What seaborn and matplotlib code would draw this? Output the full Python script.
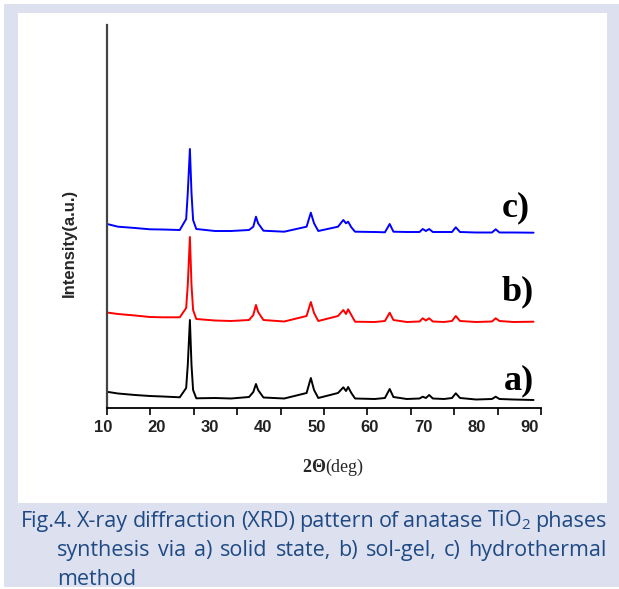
import matplotlib
matplotlib.use("Agg")
import matplotlib.pyplot as plt
import matplotlib.transforms as mtransforms
from matplotlib.patches import Rectangle
import numpy as np
import pandas as pd
import seaborn as sns

# 2theta positions (deg), shared by the three patterns
two_theta = [10.0, 11.8, 15.0, 17.8, 20.2, 23.4, 24.6, 24.9, 25.3, 25.6, 25.9, 26.5,
             30.0, 33.0, 36.4, 37.2, 37.7, 38.1, 39.1, 43.0, 47.2, 48.0, 48.6, 49.4,
             53.1, 54.1, 54.6, 55.0, 55.6, 56.3, 60.0, 61.9, 62.8, 63.5, 66.0, 68.4,
             69.0, 69.6, 70.2, 70.9, 73.0, 74.5, 75.2, 76.0, 79.0, 82.0, 82.7, 83.4,
             86.0, 89.8]

# stacked intensities (a.u.), already offset as in the figure
solid_state = [15, 13.5, 12, 11, 10.5, 9.7, 19, 42, 87, 42, 17, 8.7,
               9, 8.5, 10, 15, 23, 17, 9.5, 8.5, 14, 29, 17, 9,
               14, 19.7, 16, 20, 14, 8.5, 8, 9, 18, 10, 8, 8.5,
               10.3, 9, 12, 8.5, 8, 9, 13.7, 9, 7.5, 8, 10.3, 8,
               7.5, 7]
sol_gel = [94.3, 93, 91.5, 90, 89.7, 89.7, 99, 122, 170, 122, 97, 88,
           86.5, 86, 87, 92, 102, 95, 87, 85.5, 91, 105, 94, 86,
           91, 97, 93, 97.7, 92, 85.3, 85, 86, 94.3, 87, 85, 85.5,
           88.7, 86.5, 88.7, 85.5, 85, 86, 91, 86, 85, 85.5, 88.7, 86,
           85, 85.3]
hydrothermal = [182.7, 180.3, 179, 177.7, 177.5, 177, 188, 214, 258, 214, 187, 178,
                176, 176, 177, 180.3, 190.3, 183.7, 176.3, 175.3, 180.3, 194.3, 183.7, 176,
                180.3, 187, 183.7, 185.3, 179.7, 175.3, 175, 174.7, 183, 175.3, 175, 175,
                178, 176, 178, 175, 175, 175, 179.7, 175, 174.5, 174.5, 177.7, 174.5,
                174.5, 174.3]

samples = ["a)", "b)", "c)"]
colors = {"a)": "black", "b)": "#ff0000", "c)": "#0000ff"}
x_tick_labels = [10, 20, 30, 40, 50, 60, 70, 80, 90]

df = pd.concat([
    pd.DataFrame({"two_theta": two_theta, "intensity": vals, "sample": name})
    for name, vals in zip(samples, [solid_state, sol_gel, hydrothermal])
])

sns.set_style("white")
plt.rcParams["font.family"] = ["Liberation Sans", "DejaVu Sans"]
plt.rcParams["mathtext.fontset"] = "custom"
plt.rcParams["mathtext.rm"] = "Open Sans"
plt.rcParams["mathtext.it"] = "Open Sans:italic"
plt.rcParams["mathtext.bf"] = "Liberation Serif:bold"

W, H = 619, 589
fig = plt.figure(figsize=(W / 100, H / 100), dpi=100)


def px(x, y):
    return x / W, 1 - y / H


# lavender frame and white panel
fig.add_artist(Rectangle(px(4, 587), 615 / W, 583 / H, transform=fig.transFigure,
                         facecolor="#dde0ef", edgecolor="none", zorder=-10))
fig.add_artist(Rectangle(px(17.5, 502.5), 589.5 / W, 489.5 / H, transform=fig.transFigure,
                         facecolor="white", edgecolor="none", zorder=-9))

ax = fig.add_axes([107 / W, 1 - 407.5 / H, 434 / W, 382.5 / H])
ax.set_facecolor("none")
sns.lineplot(data=df, x="two_theta", y="intensity", hue="sample", palette=colors,
             estimator=None, sort=False, legend=False, linewidth=1.4, ax=ax)

ax.set_xlim(9.74, 91.2)
ax.set_ylim(-0.5, 382)
sns.despine(ax=ax)
ax.spines["left"].set_color("#444444")
ax.spines["left"].set_linewidth(1.6)
ax.spines["bottom"].set_color("black")
ax.spines["bottom"].set_linewidth(1.3)
ax.set_yticks([])

ax.set_xticks(x_tick_labels)
ax.set_xticklabels([str(t) for t in x_tick_labels], fontsize=12, fontweight="bold",
                   color="#222222")
ax.set_xticks(np.linspace(9.74, 91.2, 11), minor=True)
ax.tick_params(axis="x", which="major", length=0, pad=9)
ax.tick_params(axis="x", which="minor", length=5, width=1.2, color="black",
               direction="out", bottom=True)
shift = mtransforms.ScaledTranslation(-5 / 100, 0, fig.dpi_scale_trans)
for lab in ax.get_xticklabels():
    lab.set_transform(lab.get_transform() + shift)

ax.set_xlabel(r"$\mathbf{2\Theta}$(deg)", family="Liberation Serif", fontsize=13)
ax.xaxis.set_label_coords(0.521, -0.128)
ax.set_ylabel("Intensity(a.u.)", fontsize=12, fontweight="bold")
ax.yaxis.set_label_coords(-0.07, 0.43)

for name, (lx, ly) in zip(samples, [(87.0, 26), (86.9, 115), (86.5, 199)]):
    ax.text(lx, ly, name, family="Liberation Serif", fontweight="bold", fontsize=26,
            ha="center", va="center", color="black")

# caption, justified line by line
cap_color = "#1f4a84"
cap_size = 15.5
caption = [
    ("Fig.4. X-ray diffraction (XRD) pattern of anatase TiO$_2$ phases", 20.7, 526.7, True),
    ("synthesis via a) solid state, b) sol-gel, c) hydrothermal", 57.3, 556.0, True),
    ("method", 57.3, 585.0, False),
]
renderer = fig.canvas.get_renderer()
right_edge = 607
for line, x0, yb, justify in caption:
    words = line.split(" ")
    texts = [fig.text(0, 0, w, family="Open Sans", fontsize=cap_size, color=cap_color,
                      va="baseline", ha="left") for w in words]
    widths = [t.get_window_extent(renderer).width for t in texts]
    if justify and len(words) > 1:
        gap = (right_edge - x0 - sum(widths)) / (len(words) - 1)
    else:
        gap = 0.27 * cap_size * 100 / 72
    x = x0
    for t, w in zip(texts, widths):
        t.set_position(px(x, yb))
        x += w + gap

fig.savefig("out.png", dpi=100)
